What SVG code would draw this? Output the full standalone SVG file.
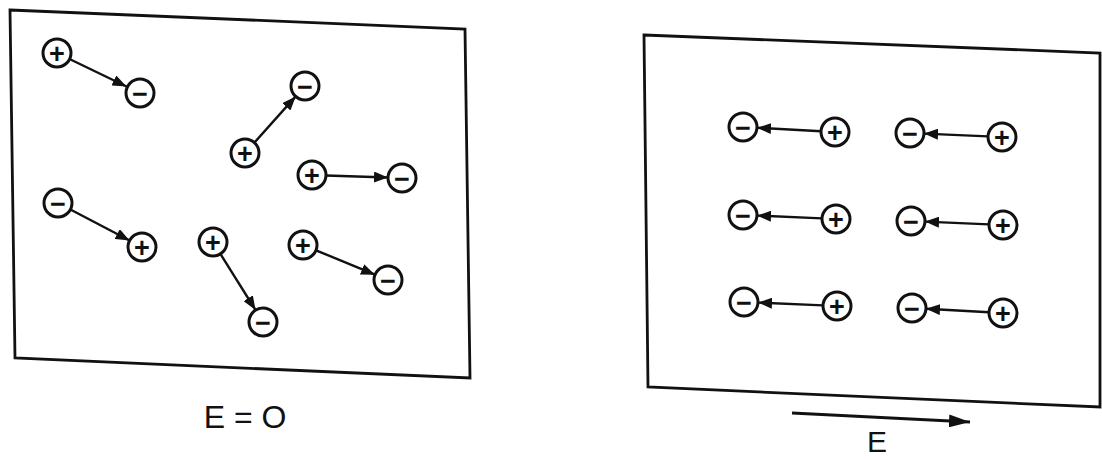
<svg xmlns="http://www.w3.org/2000/svg" width="1102" height="460" viewBox="0 0 1102 460">
<style>
.box{fill:none;stroke:#111;stroke-width:2.8;stroke-linejoin:miter}
.q circle{fill:#fff;stroke:#111;stroke-width:3}
.q text{font-family:"Liberation Sans",Arial,sans-serif;font-weight:bold;font-size:27px;text-anchor:middle;fill:#111}
.conn line{stroke:#111;stroke-width:2.4;marker-end:url(#ah)}
.lbl{font-family:"Liberation Sans",Arial,sans-serif;font-size:32px;fill:#111;text-anchor:middle}
</style>
<defs>
<marker id="ah" markerUnits="userSpaceOnUse" markerWidth="15" markerHeight="11" refX="14" refY="5.5" orient="auto"><path d="M0,0 L14,5.5 L0,11 z" fill="#111"/></marker>
<marker id="ahE" markerUnits="userSpaceOnUse" markerWidth="22" markerHeight="13" refX="21" refY="6.5" orient="auto"><path d="M0,0 L21,6.5 L0,13 z" fill="#111"/></marker>
</defs>
<rect width="1102" height="460" fill="#fff"/>
<polygon class="box" points="10,10 465,29 470,378 15,358"/>
<polygon class="box" points="644,35 1100,53 1100,407 648,387"/>
<g id="connectors" class="conn">
<line x1="70.5" y1="59.5" x2="126.5" y2="86.5"/>
<line x1="254.3" y1="142.6" x2="295.7" y2="96.4"/>
<line x1="326" y1="175.5" x2="388" y2="177.5"/>
<line x1="70.4" y1="209.5" x2="129.6" y2="240.5"/>
<line x1="220.4" y1="253.9" x2="255.6" y2="310.1"/>
<line x1="316" y1="250.3" x2="375" y2="274.7"/>
<line x1="821" y1="131.2" x2="757" y2="127.8"/>
<line x1="988" y1="136.4" x2="924" y2="133.6"/>
<line x1="822" y1="218.4" x2="757" y2="215.6"/>
<line x1="989" y1="224.4" x2="925" y2="221.6"/>
<line x1="823" y1="305.4" x2="758" y2="302.6"/>
<line x1="989" y1="312.2" x2="926" y2="308.8"/>
<line x1="792" y1="413" x2="970" y2="422" style="stroke-width:3;marker-end:url(#ahE)"/>
</g>
<g id="p1" class="q"><circle cx="57" cy="53" r="14"/><text x="57" y="62.5">+</text></g>
<g id="m1" class="q"><circle cx="140" cy="93" r="14"/><text x="140" y="102.5">−</text></g>
<g id="p2" class="q"><circle cx="245" cy="153" r="14"/><text x="245" y="162.5">+</text></g>
<g id="m2" class="q"><circle cx="305" cy="86" r="14"/><text x="305" y="95.5">−</text></g>
<g id="p3" class="q"><circle cx="312" cy="175" r="14"/><text x="312" y="184.5">+</text></g>
<g id="m3" class="q"><circle cx="402" cy="178" r="14"/><text x="402" y="187.5">−</text></g>
<g id="m4" class="q"><circle cx="58" cy="203" r="14"/><text x="58" y="212.5">−</text></g>
<g id="p4" class="q"><circle cx="142" cy="247" r="14"/><text x="142" y="256.5">+</text></g>
<g id="p5" class="q"><circle cx="213" cy="242" r="14"/><text x="213" y="251.5">+</text></g>
<g id="m5" class="q"><circle cx="263" cy="322" r="14"/><text x="263" y="331.5">−</text></g>
<g id="p6" class="q"><circle cx="303" cy="245" r="14"/><text x="303" y="254.5">+</text></g>
<g id="m6" class="q"><circle cx="388" cy="280" r="14"/><text x="388" y="289.5">−</text></g>
<g id="rm1" class="q"><circle cx="743" cy="127" r="14"/><text x="743" y="136.5">−</text></g>
<g id="rp1" class="q"><circle cx="835" cy="132" r="14"/><text x="835" y="141.5">+</text></g>
<g id="rm2" class="q"><circle cx="910" cy="133" r="14"/><text x="910" y="142.5">−</text></g>
<g id="rp2" class="q"><circle cx="1002" cy="137" r="14"/><text x="1002" y="146.5">+</text></g>
<g id="rm3" class="q"><circle cx="743" cy="215" r="14"/><text x="743" y="224.5">−</text></g>
<g id="rp3" class="q"><circle cx="836" cy="219" r="14"/><text x="836" y="228.5">+</text></g>
<g id="rm4" class="q"><circle cx="911" cy="221" r="14"/><text x="911" y="230.5">−</text></g>
<g id="rp4" class="q"><circle cx="1003" cy="225" r="14"/><text x="1003" y="234.5">+</text></g>
<g id="rm5" class="q"><circle cx="744" cy="302" r="14"/><text x="744" y="311.5">−</text></g>
<g id="rp5" class="q"><circle cx="837" cy="306" r="14"/><text x="837" y="315.5">+</text></g>
<g id="rm6" class="q"><circle cx="912" cy="308" r="14"/><text x="912" y="317.5">−</text></g>
<g id="rp6" class="q"><circle cx="1003" cy="313" r="14"/><text x="1003" y="322.5">+</text></g>
<text class="lbl" x="245" y="428">E = O</text>
<text class="lbl" x="877" y="452" style="font-size:30px">E</text>
</svg>
